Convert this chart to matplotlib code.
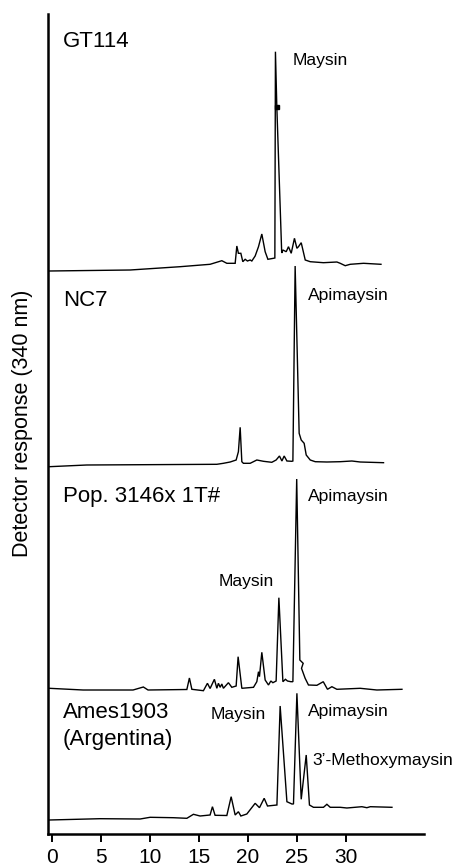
import matplotlib
matplotlib.use("Agg")
import matplotlib.pyplot as plt

plt.rcParams['font.family'] = ['Liberation Sans', 'DejaVu Sans']

# Retention time (min) and detector response (arbitrary units) for each extract
gt114_time = [-0.26, 7.99, 13.09, 16.15, 17.35, 17.86, 18.71, 18.88, 19.04, 19.29,
              19.49, 19.73, 19.96, 20.24, 20.41, 20.75, 21.09, 21.43, 21.77, 22.05,
              22.62, 22.76, 22.82, 22.96, 23.46, 23.58, 23.92, 24.15, 24.43, 24.76,
              25.01, 25.17, 25.45, 25.86, 26.37, 27.72, 29.09, 29.43, 29.94, 30.45,
              31.81, 33.59]
gt114_resp = [0, 1, 4.3, 6.7, 10.3, 7.7, 7.7, 25, 17.7, 17.7,
              9.3, 11.7, 10, 11, 10, 15, 24.3, 37, 19.3, 11.7,
              12.7, 13, 219.3, 164.3, 18, 21, 19.3, 24.3, 17.7, 32.7,
              22.7, 24.3, 28.3, 11, 9.3, 8.3, 9, 7.7, 5.3, 6.7,
              7.7, 6.7]

nc7_time = [-0.26, 3.56, 16.84, 17.51, 18.20, 18.81, 19.04, 19.22, 19.39, 19.55,
            20.24, 20.92, 21.60, 22.45, 22.89, 23.23, 23.48, 23.71, 23.99, 24.50,
            24.60, 24.83, 25.24, 25.45, 25.75, 25.96, 26.37, 26.88, 28.07, 29.43,
            30.62, 31.47, 33.85]
nc7_resp = [0, 1.7, 2.4, 3.4, 4.7, 6.7, 15, 39.4, 5, 3.4,
            3.4, 6.7, 5.4, 4.4, 6.7, 10.7, 5.7, 10.7, 5.7, 5.4,
            5.7, 200.7, 33.4, 26.7, 23.4, 11.7, 6.7, 5, 4.7, 5,
            5.7, 4.7, 4]

pop_time = [-0.26, 3.19, 8.29, 9.34, 9.82, 13.78, 14.04, 14.29, 15.47, 15.88,
            16.15, 16.59, 16.84, 17.00, 17.18, 17.35, 17.51, 18.02, 18.37, 18.81,
            19.01, 19.39, 20.58, 20.92, 21.09, 21.19, 21.43, 21.77, 22.11, 22.35,
            22.56, 22.89, 23.17, 23.58, 23.84, 24.05, 24.39, 24.60, 24.99, 25.31,
            25.65, 25.48, 25.85, 26.19, 27.05, 27.70, 28.13, 28.58, 29.09, 31.47,
            33.17, 35.73]
pop_resp = [0.7, -1, -1, 2, -1, -0.5, 11, -0.3, -1.7, 5.7,
            0.5, 9.7, 0.7, 5.7, 1.7, 5, 0.7, 6.3, 1.7, 3,
            32.3, 0.7, 1.7, 7.3, 17.3, 12.3, 36.7, 9, 4, 8,
            6.3, 8, 91.3, 7.3, 9.7, 8, 7.3, 7.3, 210, 29,
            25.7, 20.7, 10.7, 4, 3.7, 7.3, -0.3, 2.3, -0.3, 0.7,
            -1, -0.3]

ames_time = [-0.26, 4.92, 9.01, 10.03, 12.38, 13.78, 14.45, 15.13, 16.15, 16.39,
             16.66, 17.86, 18.30, 18.71, 19.04, 19.29, 19.90, 20.75, 21.19, 21.67,
             22.01, 22.97, 23.30, 23.99, 24.50, 24.66, 25.01, 25.45, 25.96, 26.29,
             26.70, 27.72, 28.07, 28.41, 29.43, 30.11, 31.64, 32.15, 32.50, 34.71]
ames_resp = [-1, 0.3, 0, 1.7, 1.3, 0.7, 4.7, 3, 4, 12.3,
             3.7, 3.5, 22.3, 4, 7.3, 3, 5, 15.7, 11.3, 20.7,
             13, 14, 113, 17.3, 15, 15, 125.7, 19.7, 64, 14,
             11.7, 11.7, 14.7, 11.7, 11.7, 11, 12.3, 11.3, 12.3, 11.7]

samples = ["GT114", "NC7", "Pop. 3146x 1T#", "Ames1903\n(Argentina)"]
time_ticks = [0, 5, 10, 15, 20, 25, 30]

# Vertical stacking of the chromatograms
offsets = [563, 367.3, 145, 15]
traces = [(gt114_time, gt114_resp), (nc7_time, nc7_resp),
          (pop_time, pop_resp), (ames_time, ames_resp)]

fig = plt.figure(figsize=(4.59, 8.67), dpi=100)
ax = fig.add_axes([48 / 459, 1 - 834 / 867, 376 / 459, 820 / 867])

for (t, r), off in zip(traces, offsets):
    ax.plot(t, [v + off for v in r], color='black', lw=1.0, solid_joinstyle='miter')

# small blot on the descending edge of the GT114 maysin peak
ax.plot([gt114_time[23]], [gt114_resp[23] + offsets[0]], 's', color='black', ms=2.2)

ax.set_xlim(-0.39, 37.98)
ax.set_ylim(0, 820)

# sample names (one baseline per line)
name_pos = [(1.14, 786.7), (1.14, 528), (1.14, 331.7), (1.14, 115.7)]
line_step = 26.5
for name, (x, y) in zip(samples, name_pos):
    for i, line in enumerate(name.split("\n")):
        ax.text(x, y - i * line_step, line, fontsize=16, ha='left', va='baseline')

# peak labels
peak_labels = [
    ("Maysin", 24.6, 769),
    ("Apimaysin", 26.19, 534),
    ("Apimaysin", 26.09, 333.3),
    ("Maysin", 17.0, 248),
    ("Maysin", 16.23, 114.7),
    ("Apimaysin", 26.09, 118),
    ("3\u2019-Methoxymaysin", 26.64, 69),
]
for txt, x, y in peak_labels:
    ax.text(x, y, txt, fontsize=12.6, ha='left', va='baseline')

for side in ('top', 'right'):
    ax.spines[side].set_visible(False)
for side in ('left', 'bottom'):
    ax.spines[side].set_linewidth(1.8)

ax.set_yticks([])
ax.set_xticks(time_ticks)
ax.set_xticklabels([str(v) for v in time_ticks])
ax.tick_params(axis='x', direction='out', length=6, width=1.4, labelsize=15, pad=4)

fig.text(22.7 / 459, 1 - 423 / 867, "Detector response (340 nm)", rotation=90,
         ha='center', va='center', fontsize=15.5)

fig.savefig("out.png", dpi=100)
